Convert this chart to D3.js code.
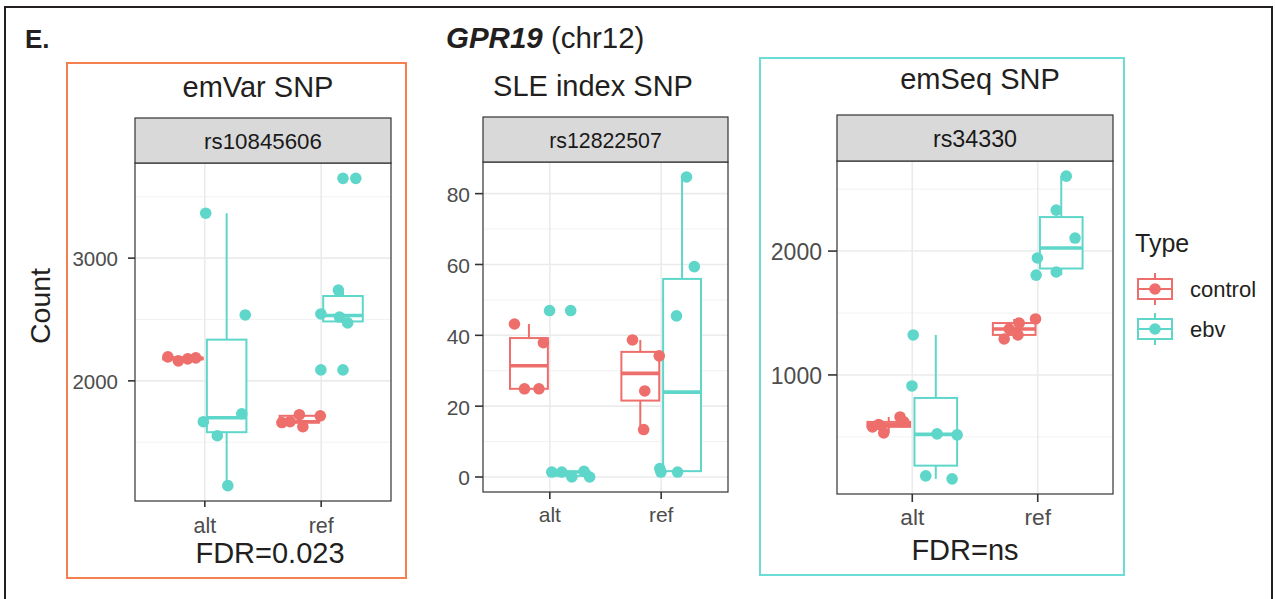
<!DOCTYPE html>
<html>
<head>
<meta charset="utf-8">
<script src="https://cdn.jsdelivr.net/npm/d3@7"></script>
<style>
  html, body { margin: 0; padding: 0; background: #ffffff; }
  svg { display: block; font-family: "Liberation Sans", Arial, Helvetica, sans-serif; }
</style>
</head>
<body>
<svg id="chart" width="1275" height="599"></svg>
<script>
// ---------------- DATA ----------------
const categories = ["alt", "ref"];
const types = ["control", "ebv"];
const snpIds = ["rs10845606", "rs12822507", "rs34330"];
const panelTitles = ["emVar SNP", "SLE index SNP", "emSeq SNP"];
const fdrLabels = ["FDR=0.023", "", "FDR=ns"];
const figureLetter = "E.";
const geneName = "GPR19";
const geneLocus = " (chr12)";
const yAxisLabel = "Count";
const legendTitle = "Type";

const yTicks1 = [2000, 3000];
const yMinor1 = [1500, 2500, 3500];
const yTicks2 = [0, 20, 40, 60, 80];
const yMinor2 = [10, 30, 50, 70];
const yTicks3 = [1000, 2000];
const yMinor3 = [500, 1500, 2500];

// Panel 1: rs10845606
const p1ControlAlt = [2195, 2163, 2179, 2187];
const p1ControlAltJitter = [-0.13, -0.04, 0.04, 0.11];
const p1EbvAlt = [3366, 2537, 1732, 1667, 1553, 1146];
const p1EbvAltJitter = [-0.18, 0.16, 0.13, -0.20, -0.08, 0.01];
const p1ControlRef = [1667, 1724, 1626, 1715, 1660];
const p1ControlRefJitter = [-0.08, 0.00, 0.03, 0.18, -0.15];
const p1EbvRef = [3650, 2740, 2545, 2520, 2472, 2089];
const p1EbvRefJitter = [0.11, -0.04, -0.19, -0.03, 0.04, -0.19];

// Panel 2: rs12822507
const p2ControlAlt = [43.2, 37.9, 24.9, 24.9];
const p2ControlAltJitter = [-0.13, 0.13, -0.04, 0.09];
const p2EbvAlt = [47.0, 1.4, 1.4, 0.0, 1.6, 0.0];
const p2EbvAltJitter = [-0.19, -0.17, -0.08, 0.01, 0.12, 0.17];
const p2ControlRef = [38.7, 34.2, 24.3, 13.4];
const p2ControlRefJitter = [-0.07, 0.17, 0.04, 0.03];
const p2EbvRef = [84.7, 59.4, 45.5, 2.4, 1.4, 1.4];
const p2EbvRefJitter = [0.04, 0.11, -0.05, -0.20, -0.19, -0.04];

// Panel 3: rs34330
const p3ControlAlt = [581, 532, 661, 621, 600];
const p3ControlAltJitter = [-0.13, -0.04, 0.09, 0.12, -0.08];
const p3EbvAlt = [1323, 911, 524, 516, 185, 161];
const p3EbvAltJitter = [-0.18, -0.19, 0.01, 0.17, -0.08, 0.13];
const p3ControlRef = [1290, 1323, 1371, 1419, 1452];
const p3ControlRefJitter = [-0.08, 0.03, -0.04, 0.04, 0.17];
const p3EbvRef = [2605, 2331, 2105, 1944, 1806, 1831];
const p3EbvRefJitter = [0.04, -0.04, 0.11, -0.19, -0.20, -0.04];

// ---------------- BUILD ----------------
const colors = { control: "#ee6e6b", ebv: "#5ed7ca" };

const panelData = [
  { values: { control: { alt: p1ControlAlt, ref: p1ControlRef }, ebv: { alt: p1EbvAlt, ref: p1EbvRef } },
    jitter: { control: { alt: p1ControlAltJitter, ref: p1ControlRefJitter }, ebv: { alt: p1EbvAltJitter, ref: p1EbvRefJitter } },
    ticks: yTicks1, minor: yMinor1 },
  { values: { control: { alt: p2ControlAlt, ref: p2ControlRef }, ebv: { alt: p2EbvAlt, ref: p2EbvRef } },
    jitter: { control: { alt: p2ControlAltJitter, ref: p2ControlRefJitter }, ebv: { alt: p2EbvAltJitter, ref: p2EbvRefJitter } },
    ticks: yTicks2, minor: yMinor2 },
  { values: { control: { alt: p3ControlAlt, ref: p3ControlRef }, ebv: { alt: p3EbvAlt, ref: p3EbvRef } },
    jitter: { control: { alt: p3ControlAltJitter, ref: p3ControlRefJitter }, ebv: { alt: p3EbvAltJitter, ref: p3EbvRefJitter } },
    ticks: yTicks3, minor: yMinor3 }
];

// layout
const layout = [
  { x0: 135, x1: 391, y0: 163, y1: 501, stripTop: 118, titleX: 258, titleY: 97, xlabY: 533, fdrX: 270, fdrY: 563,
    tickLen: 7, labEnd: 17, tickFont: 20.5, xFont: 21.5, stripFont: 22.3 },
  { x0: 483, x1: 728, y0: 162, y1: 492, stripTop: 117, titleX: 593, titleY: 96, xlabY: 522, fdrX: 593, fdrY: 560,
    tickLen: 8, labEnd: 13, tickFont: 21, xFont: 21, stripFont: 21.3 },
  { x0: 837, x1: 1113, y0: 161, y1: 494, stripTop: 115, titleX: 980, titleY: 89, xlabY: 525, fdrX: 965, fdrY: 560,
    tickLen: 9, labEnd: 15, tickFont: 23, xFont: 22.7, stripFont: 23.3 }
];

const svg = d3.select("#chart");
const ink = "#231f20";

// outer frame
svg.append("rect").attr("x", 5).attr("y", 7).attr("width", 1267).attr("height", 600)
  .attr("fill", "none").attr("stroke", ink).attr("stroke-width", 2);

// highlight frames
svg.append("rect").attr("x", 67).attr("y", 63).attr("width", 339).attr("height", 515)
  .attr("fill", "none").attr("stroke", "#f4804f").attr("stroke-width", 2);
svg.append("rect").attr("x", 760).attr("y", 58).attr("width", 364).attr("height", 517)
  .attr("fill", "none").attr("stroke", "#6cdcd8").attr("stroke-width", 2);

// header texts
svg.append("text").attr("x", 25).attr("y", 48).attr("font-size", 26).attr("font-weight", "bold")
  .attr("fill", ink).text(figureLetter);
const head = svg.append("text").attr("x", 446).attr("y", 48).attr("font-size", 29.5).attr("fill", ink);
head.append("tspan").attr("font-weight", "bold").attr("font-style", "italic").text(geneName);
head.append("tspan").text(geneLocus);

// y label
svg.append("text").attr("transform", "translate(50,306) rotate(-90)")
  .attr("text-anchor", "middle").attr("font-size", 28.5).attr("fill", ink).text(yAxisLabel);

function boxStats(vals) {
  const s = vals.slice().sort(d3.ascending);
  const q1 = d3.quantileSorted(s, 0.25), med = d3.quantileSorted(s, 0.5), q3 = d3.quantileSorted(s, 0.75);
  const iqr = q3 - q1;
  const lo = q1 - 1.5 * iqr, hi = q3 + 1.5 * iqr;
  const inside = s.filter(v => v >= lo && v <= hi);
  return { q1, med, q3, wlo: d3.min(inside), whi: d3.max(inside), out: s.filter(v => v < lo || v > hi) };
}

panelData.forEach((pd, i) => {
  const L = layout[i];
  const g = svg.append("g");
  const all = [];
  types.forEach(t => categories.forEach(c => all.push(...pd.values[t][c])));
  const [mn, mx] = d3.extent(all);
  const pad = (mx - mn) * 0.05;
  const y = d3.scaleLinear().domain([mn - pad, mx + pad]).range([L.y1, L.y0]);
  const x = d3.scalePoint().domain(categories).range([L.x0, L.x1]).padding(0.6);
  const step = x.step();
  const dodge = { control: -0.1875, ebv: 0.1875 };
  const bw = 0.34 * step;

  // panel background
  g.append("rect").attr("x", L.x0).attr("y", L.y0).attr("width", L.x1 - L.x0).attr("height", L.y1 - L.y0)
    .attr("fill", "#ffffff");
  // minor grid
  g.selectAll(".ming").data(pd.minor.filter(v => y(v) > L.y0 && y(v) < L.y1)).join("line")
    .attr("x1", L.x0).attr("x2", L.x1).attr("y1", d => y(d)).attr("y2", d => y(d))
    .attr("stroke", "#f2f2f2").attr("stroke-width", 1);
  // major grid
  g.selectAll(".majg").data(pd.ticks).join("line")
    .attr("x1", L.x0).attr("x2", L.x1).attr("y1", d => y(d)).attr("y2", d => y(d))
    .attr("stroke", "#ebebeb").attr("stroke-width", 1.6);
  g.selectAll(".majx").data(categories).join("line")
    .attr("x1", d => x(d)).attr("x2", d => x(d)).attr("y1", L.y0).attr("y2", L.y1)
    .attr("stroke", "#ebebeb").attr("stroke-width", 1.6);

  // boxes
  types.forEach(t => {
    categories.forEach(c => {
      const vals = pd.values[t][c];
      const st = boxStats(vals);
      const cx = x(c) + dodge[t] * step;
      const col = colors[t];
      g.append("line").attr("x1", cx).attr("x2", cx).attr("y1", y(st.q3)).attr("y2", y(st.whi))
        .attr("stroke", col).attr("stroke-width", 2);
      g.append("line").attr("x1", cx).attr("x2", cx).attr("y1", y(st.q1)).attr("y2", y(st.wlo))
        .attr("stroke", col).attr("stroke-width", 2);
      g.append("rect").attr("x", cx - bw / 2).attr("y", y(st.q3)).attr("width", bw)
        .attr("height", Math.max(0.5, y(st.q1) - y(st.q3)))
        .attr("fill", "#ffffff").attr("stroke", col).attr("stroke-width", 2);
      g.append("line").attr("x1", cx - bw / 2).attr("x2", cx + bw / 2).attr("y1", y(st.med)).attr("y2", y(st.med))
        .attr("stroke", col).attr("stroke-width", 3.6);
      g.selectAll(null).data(st.out).join("circle")
        .attr("cx", cx).attr("cy", d => y(d)).attr("r", 5.8).attr("fill", col);
    });
  });
  // jitter points
  types.forEach(t => {
    categories.forEach(c => {
      const vals = pd.values[t][c];
      const jit = pd.jitter[t][c];
      const cx = x(c) + dodge[t] * step;
      g.selectAll(null).data(vals).join("circle")
        .attr("cx", (d, k) => cx + jit[k] * step).attr("cy", d => y(d)).attr("r", 5.8)
        .attr("fill", colors[t]);
    });
  });

  // border
  g.append("rect").attr("x", L.x0).attr("y", L.y0).attr("width", L.x1 - L.x0).attr("height", L.y1 - L.y0)
    .attr("fill", "none").attr("stroke", "#333333").attr("stroke-width", 1.2);
  // strip
  g.append("rect").attr("x", L.x0).attr("y", L.stripTop).attr("width", L.x1 - L.x0).attr("height", L.y0 - L.stripTop)
    .attr("fill", "#d9d9d9").attr("stroke", "#333333").attr("stroke-width", 1.2);
  g.append("text").attr("x", (L.x0 + L.x1) / 2).attr("y", (L.stripTop + L.y0) / 2 + 8.5)
    .attr("text-anchor", "middle").attr("font-size", L.stripFont).attr("fill", "#1a1a1a").text(snpIds[i]);

  // y axis
  const ya = g.append("g");
  ya.selectAll("line").data(pd.ticks).join("line")
    .attr("x1", L.x0 - L.tickLen).attr("x2", L.x0).attr("y1", d => y(d)).attr("y2", d => y(d))
    .attr("stroke", "#333333").attr("stroke-width", 1.6);
  ya.selectAll("text").data(pd.ticks).join("text")
    .attr("x", L.x0 - L.labEnd).attr("y", d => y(d) + L.tickFont * 0.4).attr("text-anchor", "end")
    .attr("font-size", L.tickFont).attr("fill", "#4d4d4d").text(d => d);
  // x axis
  const xa = g.append("g");
  xa.selectAll("line").data(categories).join("line")
    .attr("x1", d => x(d)).attr("x2", d => x(d)).attr("y1", L.y1).attr("y2", L.y1 + L.tickLen - 1)
    .attr("stroke", "#333333").attr("stroke-width", 1.6);
  xa.selectAll("text").data(categories).join("text")
    .attr("x", d => x(d)).attr("y", L.xlabY).attr("text-anchor", "middle")
    .attr("font-size", L.xFont).attr("fill", "#4d4d4d").text(d => d);

  // titles
  svg.append("text").attr("x", L.titleX).attr("y", L.titleY).attr("text-anchor", "middle")
    .attr("font-size", 29).attr("fill", ink).text(panelTitles[i]);
  if (fdrLabels[i]) {
    svg.append("text").attr("x", L.fdrX).attr("y", L.fdrY).attr("text-anchor", "middle")
      .attr("font-size", 29).attr("fill", ink).text(fdrLabels[i]);
  }
});

// legend
const lg = svg.append("g");
lg.append("text").attr("x", 1135).attr("y", 252).attr("font-size", 25).attr("fill", ink).text(legendTitle);
types.forEach((t, k) => {
  const cy = 289 + k * 40;
  const cx = 1155;
  const col = colors[t];
  lg.append("line").attr("x1", cx).attr("x2", cx).attr("y1", cy - 16).attr("y2", cy + 16)
    .attr("stroke", col).attr("stroke-width", 2);
  lg.append("rect").attr("x", cx - 17).attr("y", cy - 10).attr("width", 34).attr("height", 20)
    .attr("fill", "#ffffff").attr("stroke", col).attr("stroke-width", 2);
  lg.append("line").attr("x1", cx - 17).attr("x2", cx + 17).attr("y1", cy).attr("y2", cy)
    .attr("stroke", col).attr("stroke-width", 2);
  lg.append("circle").attr("cx", cx).attr("cy", cy).attr("r", 5.8).attr("fill", col);
  lg.append("text").attr("x", 1190).attr("y", cy + 8).attr("font-size", 22).attr("fill", ink).text(t);
});
</script>
</body>
</html>
